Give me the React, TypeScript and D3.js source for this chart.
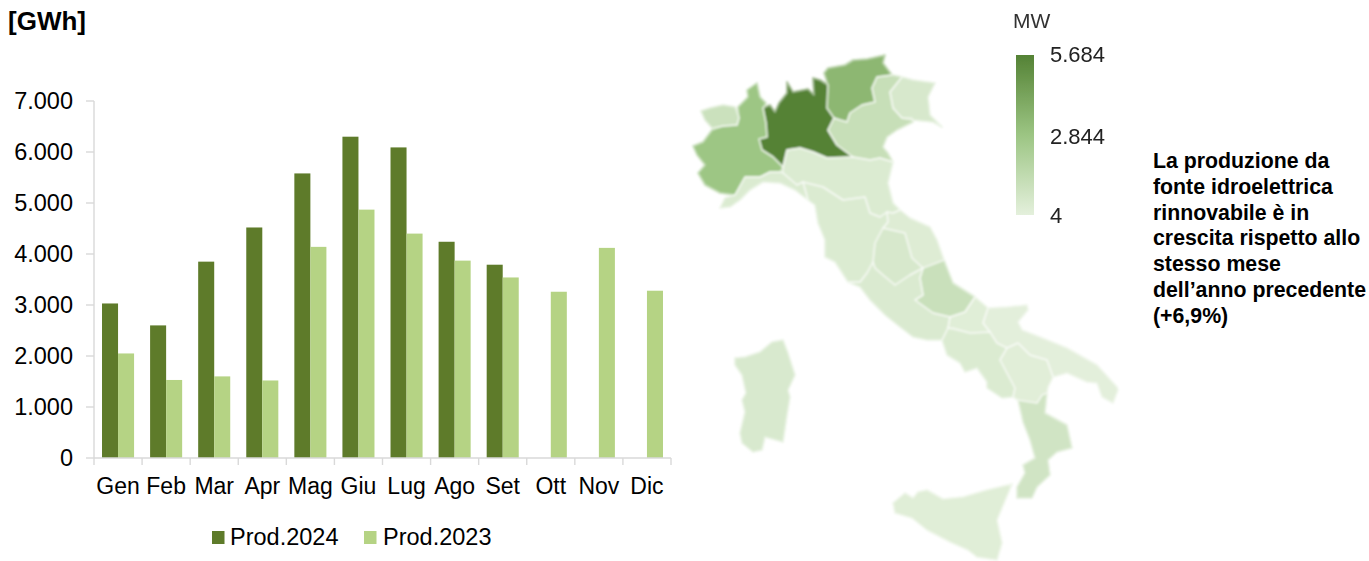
import React from "react";
import * as d3 from "d3";

const months = ["Gen","Feb","Mar","Apr","Mag","Giu","Lug","Ago","Set","Ott","Nov","Dic"];
const prod2024 = [3030,2600,3850,4520,5580,6300,6090,4240,3790,null,null,null];
const prod2023 = [2050,1530,1600,1520,4140,4870,4400,3870,3540,3260,4120,3280];
const yTicks = [0,1000,2000,3000,4000,5000,6000,7000];
const DARK = "#5E7B2A";
const LIGHT = "#B5D384";
const AXIS = "#D9D9D9";
const fmt = (v: number) => d3.format(",")(v).replace(/,/g, ".");

const legendTicks = [5684, 2844, 4];
const colorRange = ["#E4F0DC", "#9CC583", "#548235"];
const regionMW: [string, number][] = [
  ["Lombardia",5684],["Trentino",3450],["Piemonte",2800],["Aosta",1000],["Veneto",1150],["Friuli",500],
  ["Liguria",350],["Emilia",350],["Toscana",350],["Marche",250],["Umbria",520],["Abruzzo",1050],
  ["Lazio",400],["Molise",150],["Puglia",50],["Basilicata",130],["Campania",350],["Calabria",780],["Sicilia",150],["Sardegna",460],
];
// region outlines, in map units
const shapes: Record<string, [number, number][]> = {
  Aosta: [[701,111],[710,108],[723,105],[735,107],[739,118],[737,125],[723,126],[712,128],[705,120]],
  Piemonte: [[693,146],[703,142],[712,130],[723,126],[737,125],[739,118],[738,107],[748,97],[747,90],[757,83],[760,97],[766,103],[763,108],[766,123],[767,137],[759,139],[762,150],[773,157],[783,167],[780,172],[770,172],[760,177],[745,177],[735,195],[720,193],[705,185],[698,173],[705,165],[697,155]],
  Lombardia: [[763,108],[770,105],[775,112],[779,103],[787,93],[787,82],[793,92],[808,89],[814,95],[813,78],[820,80],[828,85],[827,108],[834,118],[828,130],[837,145],[853,157],[827,158],[813,152],[800,148],[787,150],[783,167],[773,157],[762,150],[759,139],[767,137],[766,123]],
  Trentino: [[824,73],[828,68],[845,65],[853,60],[867,59],[885,55],[883,63],[892,75],[877,77],[872,88],[875,102],[862,105],[850,113],[847,122],[840,120],[834,118],[827,108],[828,85]],
  Veneto: [[877,77],[892,75],[902,77],[890,92],[893,108],[902,118],[912,118],[913,122],[897,130],[887,137],[883,147],[888,153],[893,162],[880,158],[870,160],[853,157],[837,145],[828,130],[834,118],[840,120],[847,122],[850,113],[862,105],[875,102],[872,88]],
  Friuli: [[902,77],[913,80],[935,83],[928,97],[930,115],[942,127],[933,122],[913,120],[902,118],[893,108],[890,92]],
  Liguria: [[720,208],[725,198],[735,195],[745,177],[760,177],[770,172],[780,172],[783,173],[797,185],[803,182],[808,200],[795,190],[780,183],[763,182],[750,190],[740,200],[730,207]],
  Emilia: [[783,167],[787,150],[800,148],[813,152],[827,158],[853,157],[870,160],[880,158],[893,162],[888,183],[893,203],[900,210],[893,213],[887,212],[880,217],[870,213],[865,197],[843,200],[823,187],[803,182],[797,185],[783,173]],
  Toscana: [[808,200],[803,182],[823,187],[843,200],[865,197],[870,213],[880,217],[887,212],[888,222],[883,228],[875,243],[873,262],[867,273],[860,282],[848,282],[835,262],[825,257],[825,240],[818,223],[815,205]],
  Marche: [[887,212],[893,213],[900,210],[910,218],[930,227],[937,240],[944,260],[923,268],[912,258],[905,233],[883,228],[888,222]],
  Umbria: [[883,228],[905,233],[912,258],[923,268],[910,275],[895,285],[883,275],[875,268],[873,262],[875,243]],
  Abruzzo: [[944,260],[953,283],[975,297],[965,312],[950,317],[933,313],[915,300],[923,295],[920,278],[923,268]],
  Lazio: [[848,282],[860,282],[867,273],[873,262],[875,268],[883,275],[895,285],[910,275],[923,268],[920,278],[923,295],[915,300],[933,313],[950,317],[948,328],[942,340],[927,340],[913,337],[900,327],[885,315],[870,300],[860,287]],
  Molise: [[950,317],[965,312],[975,297],[988,308],[983,323],[990,332],[970,333],[953,328],[948,328]],
  Puglia: [[988,308],[1007,307],[1027,305],[1028,310],[1018,322],[1022,330],[1040,337],[1067,348],[1097,365],[1117,387],[1118,390],[1113,403],[1102,397],[1097,383],[1087,382],[1067,373],[1053,377],[1047,360],[1030,355],[1018,343],[1007,348],[997,343],[990,332],[983,323]],
  Basilicata: [[1007,348],[1018,343],[1030,355],[1047,360],[1053,377],[1048,387],[1047,393],[1042,395],[1037,403],[1018,400],[1013,397],[1015,388],[1000,360]],
  Campania: [[948,328],[970,333],[990,332],[997,343],[1007,348],[1000,360],[1015,388],[1013,397],[1002,398],[987,388],[987,382],[977,368],[965,372],[960,363],[947,355],[942,340]],
  Calabria: [[1018,400],[1037,403],[1042,395],[1047,393],[1045,413],[1067,425],[1072,448],[1057,452],[1048,460],[1050,475],[1037,487],[1032,498],[1017,498],[1017,487],[1025,473],[1023,465],[1035,458],[1030,440],[1023,422]],
  Sicilia: [[1012,484],[997,520],[1002,543],[997,560],[977,557],[968,550],[950,542],[927,530],[912,518],[895,513],[893,503],[905,493],[913,498],[918,492],[927,490],[943,499],[963,497],[987,490]],
  Sardegna: [[735,358],[745,357],[760,352],[772,342],[783,340],[788,353],[795,375],[788,390],[790,397],[787,415],[783,442],[765,437],[762,450],[753,452],[742,443],[740,433],[745,412],[742,400],[746,393],[742,375],[735,365]],
};
const noteLines = ["La produzione da","fonte idroelettrica","rinnovabile è in","crescita rispetto allo","stesso mese","dell’anno precedente","(+6,9%)"];

const FONT = "'Liberation Sans', Arial, sans-serif";

export default function App() {
  const x = d3.scaleBand<string>().domain(months).range([94, 671]);
  const sub = d3.scaleBand<string>().domain(["a","b"]).range([0, x.bandwidth()]).paddingInner(0).paddingOuter(0.5);
  const y = d3.scaleLinear().domain([0,7000]).range([458,101]);
  const color = d3.scaleLinear<string>().domain([4,2844,5684]).range(colorRange);
  const mapPos = d3.scaleIdentity();
  const line = d3.line<[number,number]>().x(d=>mapPos(d[0])).y(d=>mapPos(d[1])).curve(d3.curveLinearClosed);
  return (
    <svg width={1369} height={561} style={{position:"absolute",left:0,top:0,background:"#fff"}} fontFamily={FONT}>
      <defs>
        <linearGradient id="lg" x1="0" x2="0" y1="0" y2="1">
          <stop offset="0" stopColor={colorRange[2]} />
          <stop offset="0.5" stopColor={colorRange[1]} />
          <stop offset="1" stopColor={colorRange[0]} />
        </linearGradient>
        <filter id="soft" x="-5%" y="-5%" width="110%" height="110%"><feGaussianBlur stdDeviation="0.8" /></filter>
        <filter id="softText" x="-5%" y="-5%" width="110%" height="110%"><feGaussianBlur stdDeviation="0.35" /></filter>
      </defs>
      <text x={8} y={30} fontWeight="bold" fontSize={26} fill="#000">[GWh]</text>

      {yTicks.map(t => (
        <g key={t}>
          <line x1={86} x2={94} y1={y(t)} y2={y(t)} stroke={AXIS} strokeWidth={1.4} />
          <text x={73} y={y(t)} dy="0.36em" textAnchor="end" fontSize={23.5} fill="#000">{fmt(t)}</text>
        </g>
      ))}
      <line x1={94} x2={94} y1={101} y2={458} stroke={AXIS} strokeWidth={1.4} />
      {months.map((m,i) => (
        <g key={m}>
          {prod2024[i] != null && <rect x={x(m)!+sub("a")!} y={y(prod2024[i]!)} width={sub.bandwidth()} height={458-y(prod2024[i]!)} fill={DARK} />}
          <rect x={x(m)!+sub("b")!} y={y(prod2023[i])} width={sub.bandwidth()} height={458-y(prod2023[i])} fill={LIGHT} />
          <text x={x(m)!+x.bandwidth()/2} y={494} textAnchor="middle" fontSize={23} fill="#000">{m}</text>
        </g>
      ))}
      <line x1={94} x2={671} y1={458} y2={458} stroke={AXIS} strokeWidth={1.4} />
      {d3.range(13).map(i => {
        const px = 94 + i * x.step();
        return <line key={i} x1={px} x2={px} y1={458} y2={465} stroke={AXIS} strokeWidth={1.4} />;
      })}
      <rect x={212} y={531} width={12.5} height={13} fill={DARK} />
      <text x={230} y={545} fontSize={23.5} fill="#000">Prod.2024</text>
      <rect x={364} y={531} width={12.5} height={13} fill={LIGHT} />
      <text x={383} y={545} fontSize={23.5} fill="#000">Prod.2023</text>

      <g filter="url(#soft)">
        {regionMW.map(([name, mw]) => (
          <path key={name} d={line(shapes[name])!} fill={color(mw)} stroke={color(mw)} strokeWidth={1.5} strokeLinejoin="round" />
        ))}
        {regionMW.map(([name]) => (
          <path key={name} d={line(shapes[name])!} fill="none" stroke="#fff" strokeOpacity={0.5} strokeWidth={1.5} strokeLinejoin="round" />
        ))}
      </g>

      <rect x={1016} y={55} width={18} height={160} fill="url(#lg)" filter="url(#softText)" />
      <g filter="url(#softText)">
        <text x={1013} y={28} fontSize={21} fill="#333">MW</text>
        {legendTicks.map(t => (
          <text key={t} x={1050} y={t === 4 ? 223 : t === 2844 ? 144 : 62} fontSize={22} fill="#222">{fmt(t)}</text>
        ))}
      </g>
      {noteLines.map((l,i) => (
        <text key={i} x={1153} y={168 + i*25.8} fontWeight="bold" fontSize={21.3} fill="#000">{l}</text>
      ))}
    </svg>
  );
}
